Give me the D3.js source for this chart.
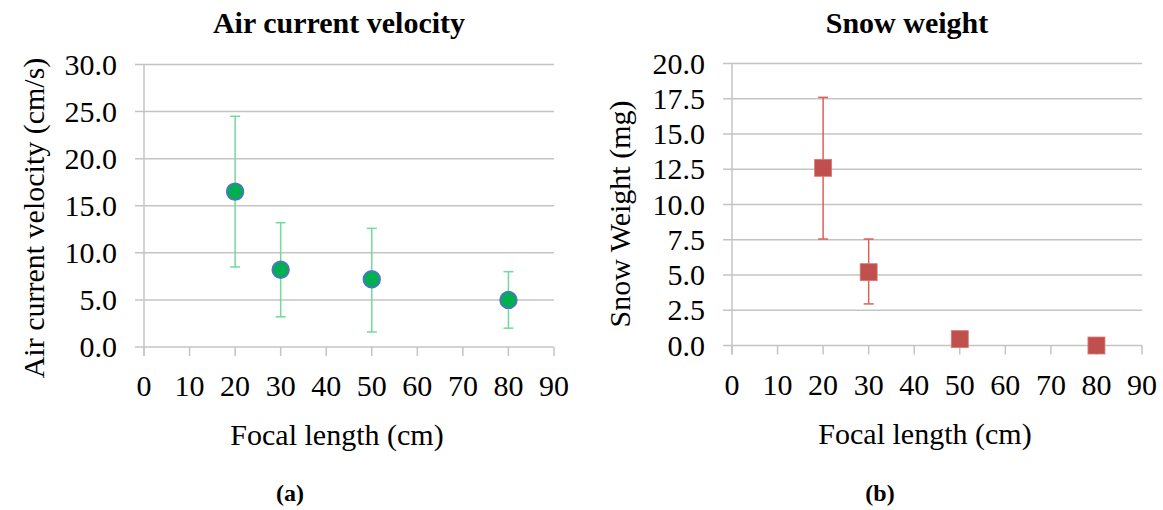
<!DOCTYPE html>
<html>
<head>
<meta charset="utf-8">
<script src="https://cdn.jsdelivr.net/npm/d3@7"></script>
<style>
  body { margin: 0; background: #fff; }
</style>
</head>
<body>
<svg id="fig" width="1163" height="510"></svg>
<script>
// focal lengths (cm)
var focal = [20, 30, 50, 80];

// panel (a): air current velocity, cm/s
var velMean = [16.5, 8.2, 7.2, 5.0];
var velHigh = [24.5, 13.2, 12.6, 8.0];
var velLow = [8.5, 3.2, 1.6, 2.0];

// panel (b): snow weight, mg
var snowMean = [12.6, 5.2, 0.45, 0.0];
var snowHigh = [17.6, 7.55, null, null];
var snowLow = [7.55, 2.95, null, null];

var xTicks = [0, 10, 20, 30, 40, 50, 60, 70, 80, 90];
var velTicks = [0, 5, 10, 15, 20, 25, 30];
var snowTicks = [0, 2.5, 5, 7.5, 10, 12.5, 15, 17.5, 20];

var FONT = 'Liberation Serif';
var svg = d3.select('#fig');

function label(g, size, bold) {
    var t = g.append('text')
        .attr('font-family', FONT)
        .style('font-family', FONT)
        .attr('font-size', size);
    if (bold) t.attr('font-weight', 'bold');
    return t;
}

function panel(opt) {
    var g = svg.append('g');
    var x = d3.scaleLinear().domain([0, 90]).range([opt.left, opt.right]);
    var y = d3.scaleLinear().domain([0, opt.ymax]).range([opt.bottom, opt.top]);

    // texts first
    xTicks.forEach(function (d) {
        label(g, 30, false)
            .attr('x', x(d)).attr('y', opt.bottom + 49)
            .attr('text-anchor', 'middle')
            .text(d);
    });

    opt.yTicks.forEach(function (d) {
        label(g, 30, false)
            .attr('x', opt.left - 27).attr('y', y(d) + 10)
            .attr('text-anchor', 'end')
            .text(d3.format('.1f')(d));
    });

    label(g, 30, true)
        .attr('x', opt.titleX).attr('y', 33)
        .attr('text-anchor', 'middle')
        .text(opt.title);

    label(g, 30, false)
        .attr('x', (opt.left + opt.right) / 2 - 12).attr('y', opt.bottom + 98)
        .attr('text-anchor', 'middle')
        .text('Focal length (cm)');

    label(g, 30, false)
        .attr('transform', 'translate(' + opt.ylabX + ',' + opt.ylabY + ') rotate(-90)')
        .attr('text-anchor', 'middle')
        .text(opt.ylabel);

    label(g, 24, true)
        .attr('x', opt.capX).attr('y', 501)
        .attr('text-anchor', 'middle')
        .text(opt.caption);

    // horizontal gridlines
    g.selectAll('line.grid').data(opt.yTicks).enter()
        .append('line')
        .attr('x1', opt.left - 9).attr('x2', opt.right)
        .attr('y1', function (d) { return y(d); })
        .attr('y2', function (d) { return y(d); })
        .attr('stroke', '#c4c4c4').attr('stroke-width', 1.5);

    // vertical axis line
    g.append('line')
        .attr('x1', opt.left).attr('x2', opt.left)
        .attr('y1', opt.top).attr('y2', opt.bottom + 9)
        .attr('stroke', '#c4c4c4').attr('stroke-width', 1.5);

    // x ticks
    g.selectAll('line.xt').data(xTicks).enter()
        .append('line')
        .attr('x1', function (d) { return x(d); })
        .attr('x2', function (d) { return x(d); })
        .attr('y1', opt.bottom).attr('y2', opt.bottom + 9)
        .attr('stroke', '#c4c4c4').attr('stroke-width', 1.5);

    // error bars
    var eb = focal.map(function (f, i) {
        return { f: f, hi: opt.high[i], lo: opt.low[i] };
    }).filter(function (d) { return d.hi !== null; });

    var ebG = g.append('g').attr('stroke', opt.errColor).attr('stroke-width', 1.5);
    ebG.selectAll('line.v').data(eb).enter().append('line')
        .attr('x1', function (d) { return x(d.f); })
        .attr('x2', function (d) { return x(d.f); })
        .attr('y1', function (d) { return y(d.hi); })
        .attr('y2', function (d) { return y(d.lo); });
    ebG.selectAll('line.h').data(eb).enter().append('line')
        .attr('x1', function (d) { return x(d.f) - 5; })
        .attr('x2', function (d) { return x(d.f) + 5; })
        .attr('y1', function (d) { return y(d.hi); })
        .attr('y2', function (d) { return y(d.hi); });
    ebG.selectAll('line.l').data(eb).enter().append('line')
        .attr('x1', function (d) { return x(d.f) - 5; })
        .attr('x2', function (d) { return x(d.f) + 5; })
        .attr('y1', function (d) { return y(d.lo); })
        .attr('y2', function (d) { return y(d.lo); });

    // markers
    var pts = focal.map(function (f, i) { return { f: f, v: opt.mean[i] }; });
    if (opt.shape === 'circle') {
        g.selectAll('circle.m').data(pts).enter().append('circle')
            .attr('cx', function (d) { return x(d.f); })
            .attr('cy', function (d) { return y(d.v); })
            .attr('r', 8.3)
            .attr('fill', '#00b050')
            .attr('stroke', '#4f73c8').attr('stroke-width', 1.8);
    } else {
        g.selectAll('rect.m').data(pts).enter().append('rect')
            .attr('x', function (d) { return x(d.f) - 8.5; })
            .attr('y', function (d) { return y(d.v) - 8.5; })
            .attr('width', 17).attr('height', 17)
            .attr('fill', '#c0504d')
            .attr('stroke', '#d97a77').attr('stroke-width', 0.8);
    }
}

panel({
    left: 144, right: 554, top: 64.5, bottom: 347, ymax: 30,
    yTicks: velTicks, title: 'Air current velocity', titleX: 339,
    ylabel: 'Air current velocity (cm/s)', ylabX: 44, ylabY: 218, capX: 290, caption: '(a)',
    mean: velMean, high: velHigh, low: velLow,
    errColor: '#6fdc9a', shape: 'circle'
});

panel({
    left: 732, right: 1142, top: 63.5, bottom: 345.5, ymax: 20,
    yTicks: snowTicks, title: 'Snow weight', titleX: 907,
    ylabel: 'Snow Weight (mg)', ylabX: 630, ylabY: 214, capX: 880, caption: '(b)',
    mean: snowMean, high: snowHigh, low: snowLow,
    errColor: '#d9605c', shape: 'square'
});
</script>
</body>
</html>
